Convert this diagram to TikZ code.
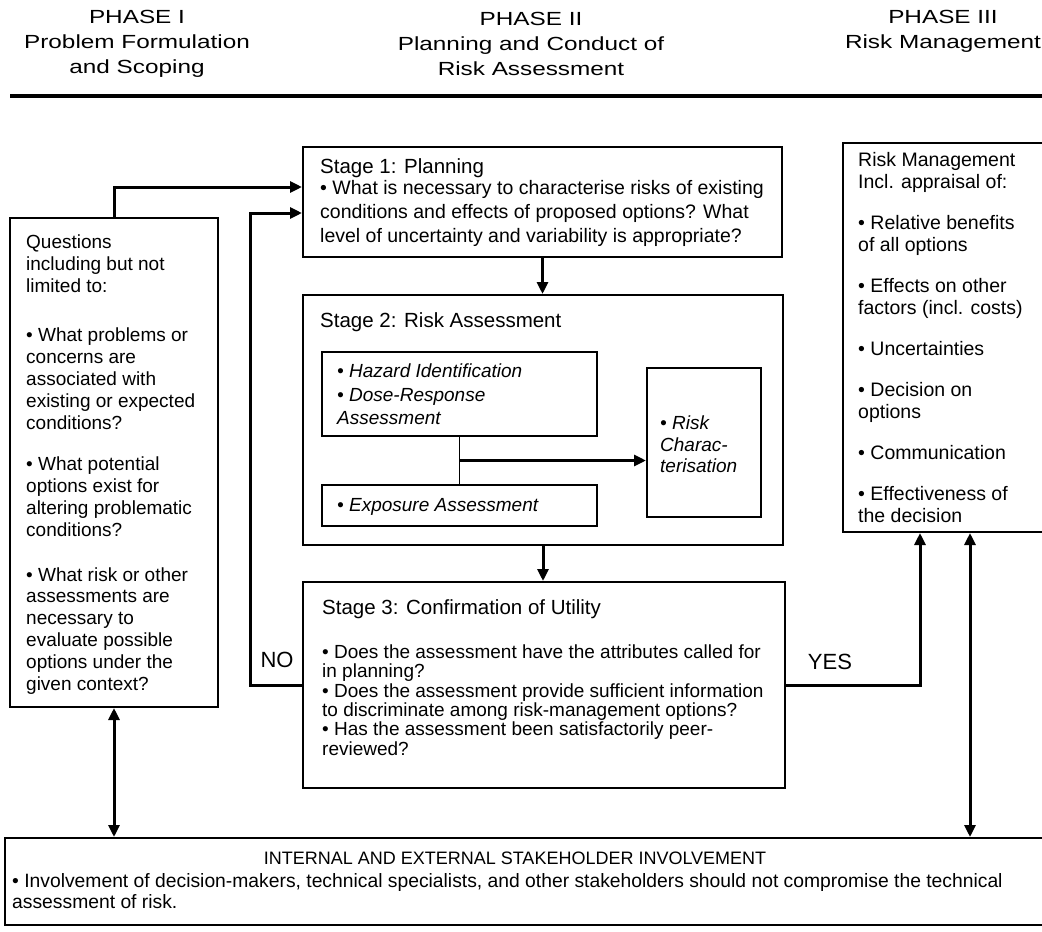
\documentclass[tikz,border=0pt]{standalone}
\usepackage{fontspec}
\setmainfont{Liberation Sans}
\newfontfamily\hdrfont[FakeStretch=1.28]{Liberation Sans}
\usetikzlibrary{arrows.meta,calc}
\begin{document}
\begin{tikzpicture}[x=1pt,y=-1pt,
  box/.style={draw, line width=2pt, inner sep=0pt, fill=none},
  conn/.style={line width=3pt},
  tipend/.style={-{Triangle[length=12pt,width=11pt]}},
  dtip/.style={{Triangle[length=12pt,width=11pt]}-{Triangle[length=12pt,width=11pt]}},
  hdr/.style={inner sep=0pt, align=center, font=\hdrfont\fontsize{19}{25}\selectfont},
  body/.style={inner sep=0pt, align=left, anchor=north west, font=\fontsize{19}{21.8}\selectfont},
  ttl/.style={inner sep=0pt, anchor=north west, font=\fontsize{20.5}{24}\selectfont},
  lab/.style={inner sep=0pt, font=\fontsize{22}{26}\selectfont}
]
\useasboundingbox (0,0) rectangle (1042,932);

% header
\node[hdr] (h1) at (137,44) {PHASE I\\Problem Formulation\\and Scoping};
\node[hdr] (h2) at (531,44) {PHASE II\\Planning and Conduct of\\Risk Assessment};
\node[hdr] (h3) at (943,31.5) {PHASE III\\Risk Management};
\draw[line width=4pt] (10,96) -- (1042,96);

% boxes
\node[box, minimum width=208pt, minimum height=489pt] (q) at (114,462.5) {};
\node[box, minimum width=479pt, minimum height=110pt] (s1) at (542.5,202) {};
\node[box, minimum width=480pt, minimum height=250pt] (s2) at (543,420) {};
\node[box, minimum width=275pt, minimum height=84pt] (hz) at (459.5,394) {};
\node[box, minimum width=275pt, minimum height=41pt] (ex) at (459.5,505.5) {};
\node[box, minimum width=114pt, minimum height=149pt] (rc) at (704,442.5) {};
\node[box, minimum width=482pt, minimum height=206pt] (s3) at (544,685) {};
\node[box, minimum width=209pt, minimum height=389pt] (rm) at (947.5,337.5) {};
\node[box, minimum width=1047pt, minimum height=87pt] (sh) at (528.5,881.5) {};

% texts
\node[body] (qt) at (26,234.5) {Questions\\including but not\\limited to:\\[28pt]
• What problems or\\concerns are\\associated with\\existing or expected\\conditions?\\[20pt]
• What potential\\options exist for\\altering problematic\\conditions?\\[23pt]
• What risk or other\\assessments are\\necessary to\\evaluate possible\\options under the\\given context?};

\node[ttl] (s1t) at (320,158) {Stage 1: Planning};
\node[body, font=\fontsize{19.5}{24}\selectfont] (s1b) at (320,180.4) {• What is necessary to characterise risks of existing\\conditions and effects of proposed options? What\\level of uncertainty and variability is appropriate?};

\node[ttl] (s2t) at (320,312) {Stage 2: Risk Assessment};
\node[body, font=\fontsize{19}{23.5}\selectfont\itshape] (hzt) at (337,363.6) {• Hazard Identification\\• Dose-Response\\Assessment};
\node[body, font=\fontsize{19}{23.5}\selectfont\itshape] (ext) at (337,498.6) {• Exposure Assessment};
\node[body, font=\fontsize{19}{21.5}\selectfont\itshape] (rct) at (660,415.6) {• Risk\\Charac-\\terisation};

\node[ttl] (s3t) at (322,599) {Stage 3: Confirmation of Utility};
\node[body, font=\fontsize{19}{19.3}\selectfont] (s3b) at (322,644.6) {• Does the assessment have the attributes called for\\in planning?\\• Does the assessment provide sufficient information\\to discriminate among risk-management options?\\• Has the assessment been satisfactorily peer-\\reviewed?};

\node[body, font=\fontsize{19.5}{21.7}\selectfont] (rmt) at (858,152.4) {Risk Management\\Incl. appraisal of:\\[19.5pt]
• Relative benefits\\of all options\\[19.5pt]
• Effects on other\\factors (incl. costs)\\[19.5pt]
• Uncertainties\\[19.5pt]
• Decision on\\options\\[19.5pt]
• Communication\\[19.5pt]
• Effectiveness of\\the decision};

\node[inner sep=0pt, font=\fontsize{18}{21}\selectfont] (sht) at (515,858) {INTERNAL AND EXTERNAL STAKEHOLDER INVOLVEMENT};
\node[body, font=\fontsize{19.3}{21}\selectfont] (shb) at (12,873.6) {• Involvement of decision-makers, technical specialists, and other stakeholders should not compromise the technical\\assessment of risk.};

\node[lab] (no) at (277,660) {NO};
\node[lab] (yes) at (830,662) {YES};

% connectors
\draw[conn,tipend] (q.north) |- ([yshift=15pt]s1.west);
\coordinate (noc) at (250,685);
\draw[conn,tipend] (s3.west) -- (noc) |- ([yshift=-11pt]s1.west);
\draw[conn,tipend] (s1.south) -- (s1.south |- s2.north);
\draw[conn,tipend] (s2.south) -- (s2.south |- s3.north);
\coordinate (jn) at ($(hz.south)!0.5!(ex.north)$);
\draw[line width=1.5pt] (hz.south) -- (ex.north);
\draw[conn,tipend] (jn) -- (jn -| rc.west);
\draw[conn,tipend] (s3.east) -| ([xshift=-27.5pt]rm.south);
\draw[conn,dtip] ([xshift=22.5pt]rm.south) -- ([xshift=22.5pt]rm.south |- sh.north);
\draw[conn,dtip] (q.south) -- (q.south |- sh.north);
\end{tikzpicture}
\end{document}
